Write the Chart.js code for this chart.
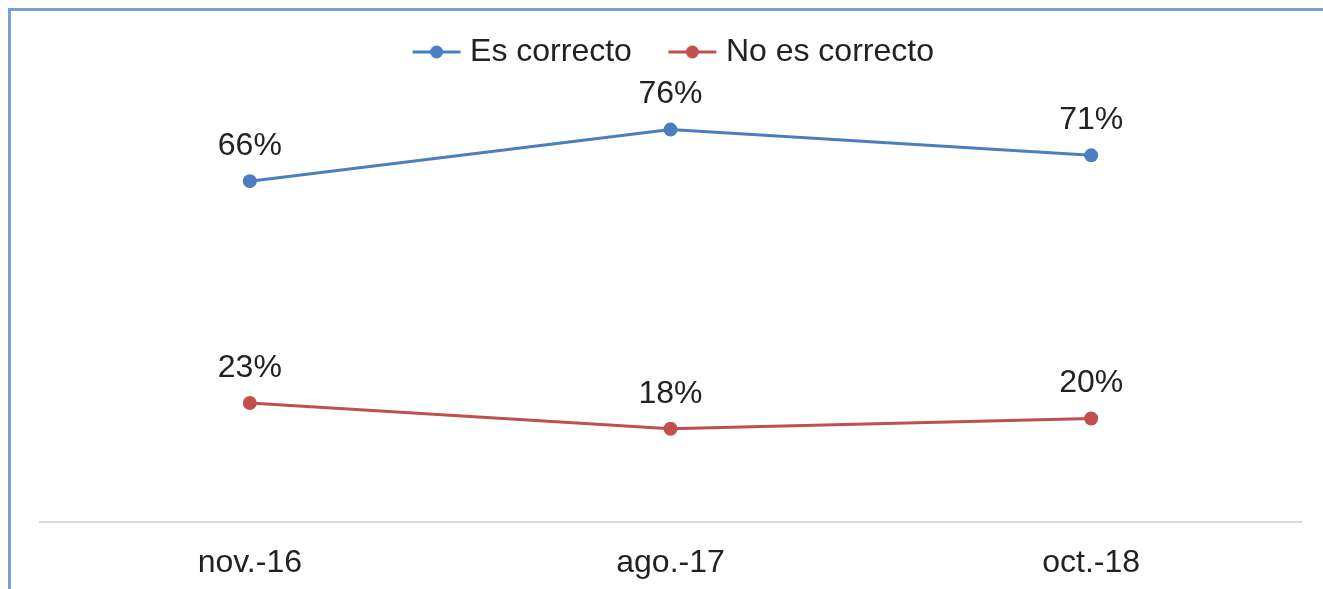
<!DOCTYPE html>
<html>
<head>
<meta charset="utf-8">
<script src="https://cdn.jsdelivr.net/npm/chart.js@4/dist/chart.umd.min.js"></script>
<style>
  html, body { margin: 0; padding: 0; background: #fff; }
  #wrap { position: relative; width: 1323px; height: 589px; overflow: hidden; }
  #frame {
    position: absolute; left: 8px; top: 8px; width: 1400px; height: 700px;
    border-left: 3px solid #7a9fd3; border-top: 3px solid #7a9fd3;
  }
  #grafico { position: absolute; left: 0; top: 0; }
</style>
</head>
<body>
<div id="wrap">
  <div id="frame"></div>
  <canvas id="grafico" width="1323" height="589"></canvas>
</div>
<script>
// datos
const periodos    = ['nov.-16', 'ago.-17', 'oct.-18'];
const esCorrecto  = [66, 76, 71];
const noCorrecto  = [23, 18, 20];
const seriesNames = ['Es correcto', 'No es correcto'];

const AZUL  = '#4a7ebf';
const ROJO  = '#c0504d';
const TEXTO = '#222222';
const FUENTE = "'Liberation Sans', Arial, sans-serif";

// marcador de leyenda: línea con punto
function marcador(color) {
  const c = document.createElement('canvas');
  c.width = 50; c.height = 16;
  const g = c.getContext('2d');
  g.strokeStyle = color; g.lineWidth = 3;
  g.beginPath(); g.moveTo(1, 8); g.lineTo(49, 8); g.stroke();
  g.fillStyle = color;
  g.beginPath(); g.arc(25, 8, 6.5, 0, Math.PI * 2); g.fill();
  return c;
}

// etiquetas de datos encima de cada punto
const etiquetas = {
  id: 'etiquetas',
  afterLayout(chart) {
    // la leyenda del original está algo desplazada a la derecha
    chart.legend.left += 6;
    chart.legend.right += 6;
  },
  afterDatasetsDraw(chart) {
    const ctx = chart.ctx;
    ctx.save();
    ctx.font = '32px ' + FUENTE;
    ctx.fillStyle = TEXTO;
    ctx.textAlign = 'center';
    ctx.textBaseline = 'middle';
    chart.data.datasets.forEach((ds, i) => {
      chart.getDatasetMeta(i).data.forEach((pt, j) => {
        ctx.fillText(ds.data[j] + '%', pt.x, pt.y - 35);
      });
    });
    ctx.restore();
  }
};

new Chart(document.getElementById('grafico'), {
  type: 'line',
  data: {
    labels: periodos,
    datasets: [
      {
        label: seriesNames[0], data: esCorrecto,
        borderColor: AZUL, backgroundColor: AZUL,
        borderWidth: 3, pointRadius: 7, pointBackgroundColor: AZUL, pointBorderWidth: 0,
        pointStyle: 'circle'
      },
      {
        label: seriesNames[1], data: noCorrecto,
        borderColor: ROJO, backgroundColor: ROJO,
        borderWidth: 3, pointRadius: 7, pointBackgroundColor: ROJO, pointBorderWidth: 0,
        pointStyle: 'circle'
      }
    ]
  },
  options: {
    responsive: false,
    animation: false,
    layout: { padding: { left: 39.5, right: 21.5, top: -7, bottom: -7 } },
    plugins: {
      tooltip: { enabled: false },
      legend: {
        position: 'top',
        labels: {
          color: TEXTO,
          font: { size: 32, family: FUENTE },
          usePointStyle: true,
          pointStyleWidth: 35,
          padding: 43,
          generateLabels(chart) {
            return chart.data.datasets.map((ds, i) => ({
              text: ds.label,
              fontColor: TEXTO,
              pointStyle: marcador(ds.borderColor),
              lineWidth: 0,
              datasetIndex: i
            }));
          }
        }
      }
    },
    scales: {
      x: {
        offset: true,
        grid: { display: false },
        border: { display: true, color: '#d9d9d9', width: 2 },
        ticks: { color: TEXTO, padding: 14, font: { size: 32, family: FUENTE } }
      },
      y: {
        display: false,
        min: 0,
        max: 86
      }
    }
  },
  plugins: [etiquetas]
});
</script>
</body>
</html>
